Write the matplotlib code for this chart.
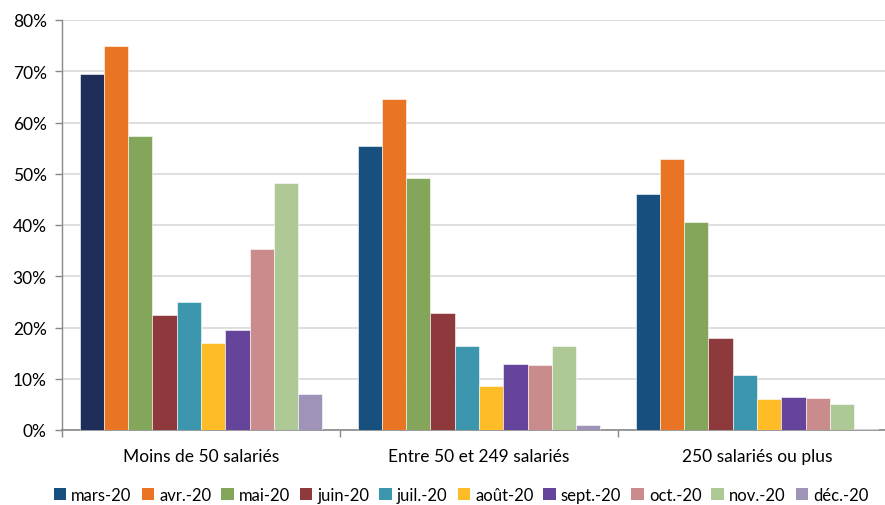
import matplotlib
matplotlib.use("Agg")
import matplotlib.pyplot as plt
from matplotlib.ticker import FixedLocator, PercentFormatter
from matplotlib.patches import Patch
import numpy as np

plt.rcParams['font.family'] = ['Lato', 'DejaVu Sans']

categories = ["Moins de 50 salariés", "Entre 50 et 249 salariés", "250 salariés ou plus"]
months = ["mars-20", "avr.-20", "mai-20", "juin-20", "juil.-20", "août-20",
          "sept.-20", "oct.-20", "nov.-20", "déc.-20"]
values = {
    "mars-20":  [69.5, 55.4, 46.0],
    "avr.-20":  [74.9, 64.6, 52.9],
    "mai-20":   [57.4, 49.2, 40.6],
    "juin-20":  [22.5, 22.8, 18.0],
    "juil.-20": [25.0, 16.4, 10.7],
    "août-20":  [17.0, 8.6, 6.0],
    "sept.-20": [19.5, 12.9, 6.5],
    "oct.-20":  [35.3, 12.7, 6.2],
    "nov.-20":  [48.2, 16.4, 5.1],
    "déc.-20":  [7.1, 1.0, 0.1],
}
colors = ["#17507F", "#E87424", "#84A65A", "#8E3A3D", "#3C97AE", "#FEBD26",
          "#65449B", "#C98B8B", "#AEC995", "#A093B8"]
first_bar_color = "#1F2D5A"

fig = plt.figure(figsize=(8.85, 5.06), dpi=100)
ax = fig.add_axes([62/885, 1-431/506, (896-62)/885, (431-21)/506])

n = len(months)
group_w = 0.874
bw = group_w / n
x = np.arange(len(categories))
for i, m in enumerate(months):
    cols = [colors[i]] * len(categories)
    if i == 0:
        cols[0] = first_bar_color
    ax.bar(x - group_w/2 + bw*(i+0.5), values[m], width=bw, color=cols,
           edgecolor='white', linewidth=0.4, zorder=3)

ax.set_xlim(-0.5, len(categories)-0.5)
ax.set_ylim(0, 80)
ax.set_yticks(np.arange(0, 81, 10))
ax.yaxis.set_major_formatter(PercentFormatter(decimals=0))
ax.yaxis.grid(True, color='#D9D9D9', linewidth=1.2, zorder=0)
ax.set_axisbelow(True)

ax.set_xticks(x)
ax.set_xticklabels(categories)
ax.tick_params(axis='x', which='major', length=0, pad=13, labelsize=12.5, colors='#000000')
ax.xaxis.set_minor_locator(FixedLocator(np.arange(-0.5, len(categories), 1.0)))
ax.tick_params(axis='x', which='minor', length=5, color='#898989', width=1)
ax.tick_params(axis='y', length=5, color='#898989', width=1, labelsize=12.5, pad=6)

for s in ['top', 'right']:
    ax.spines[s].set_visible(False)
ax.spines['left'].set_color('#898989')
ax.spines['bottom'].set_color('#898989')
ax.spines['left'].set_linewidth(1)
ax.spines['bottom'].set_linewidth(1.2)

handles = [Patch(facecolor=c, edgecolor='none') for c in colors]
fig.legend(handles, months, loc='center', bbox_to_anchor=(461/885, 1-496/506),
           ncol=n, frameon=False, fontsize=12, handlelength=0.75, handleheight=0.75,
           handletextpad=0.3, columnspacing=0.6, borderaxespad=0)

fig.savefig("out.png", dpi=100)
